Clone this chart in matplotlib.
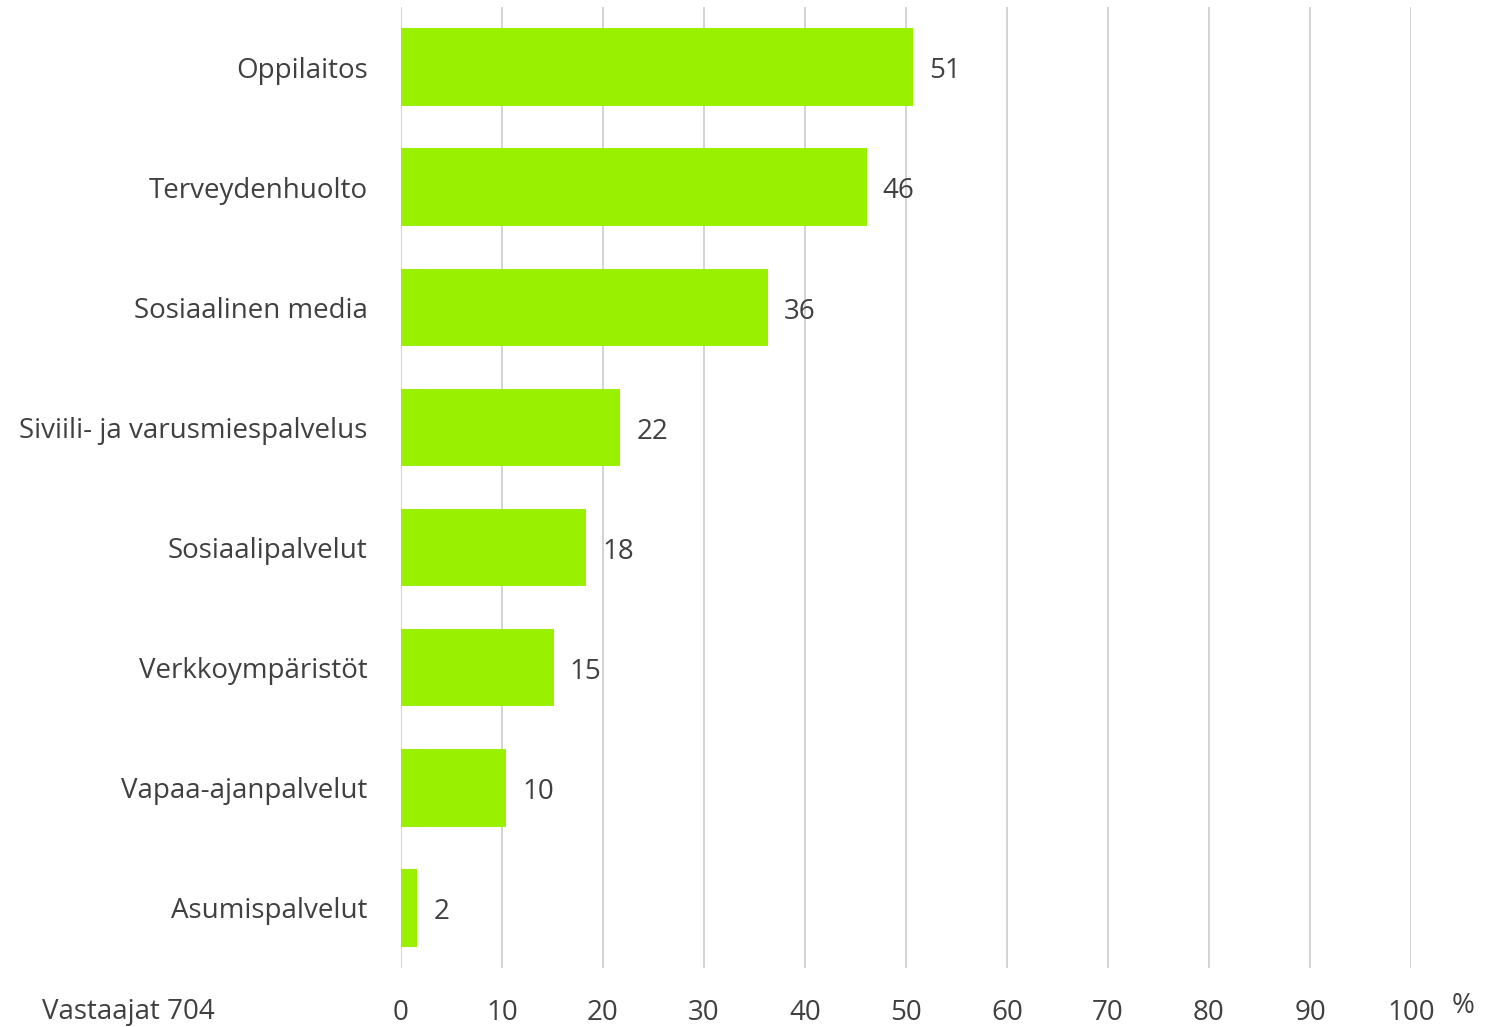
import matplotlib.pyplot as plt

# Kategoriat ja arvot (%)
categories = ['Oppilaitos', 'Terveydenhuolto', 'Sosiaalinen media',
              'Siviili- ja varusmiespalvelus', 'Sosiaalipalvelut',
              'Verkkoympäristöt', 'Vapaa-ajanpalvelut', 'Asumispalvelut']
values = [50.7, 46.1, 36.3, 21.7, 18.3, 15.1, 10.4, 1.6]
xticks = [0, 10, 20, 30, 40, 50, 60, 70, 80, 90, 100]

plt.rcParams['font.family'] = ['Open Sans', 'DejaVu Sans']
txt = '#404040'
fs = 20

fig = plt.figure(figsize=(14.9, 10.27), dpi=100)
ax = fig.add_axes([401/1490, 59/1027, 1010/1490, 961/1027])

y = list(range(len(categories)))[::-1]
ax.barh(y, values, height=0.645, color='#99f000', zorder=2)

for yi, v in zip(y, values):
    ax.text(v + 1.6, yi - 0.035, f'{round(v):d}', va='center', ha='left',
            fontsize=fs, color=txt)

ax.set_xlim(0, 100)
ax.set_ylim(-0.5, 7.5)
ax.set_xticks(xticks)
ax.set_xticklabels([str(t) for t in xticks], fontsize=fs, color=txt)
ax.set_yticks(y)
ax.set_yticklabels(categories, fontsize=fs, color=txt)
ax.tick_params(axis='both', length=0)
ax.tick_params(axis='x', pad=22)
ax.tick_params(axis='y', pad=24)
ax.grid(axis='x', color='#d0d0d0', linewidth=1.3, zorder=0)
for s in ax.spines.values():
    s.set_visible(False)

fig.text(42/1490, 1 - 1012/1027, 'Vastaajat 704', fontsize=fs, color=txt,
         va='center', ha='left')
fig.text(1463/1490, 1 - 1006/1027, '%', fontsize=fs, color=txt,
         va='center', ha='center')

fig.savefig('out.png', dpi=100)
